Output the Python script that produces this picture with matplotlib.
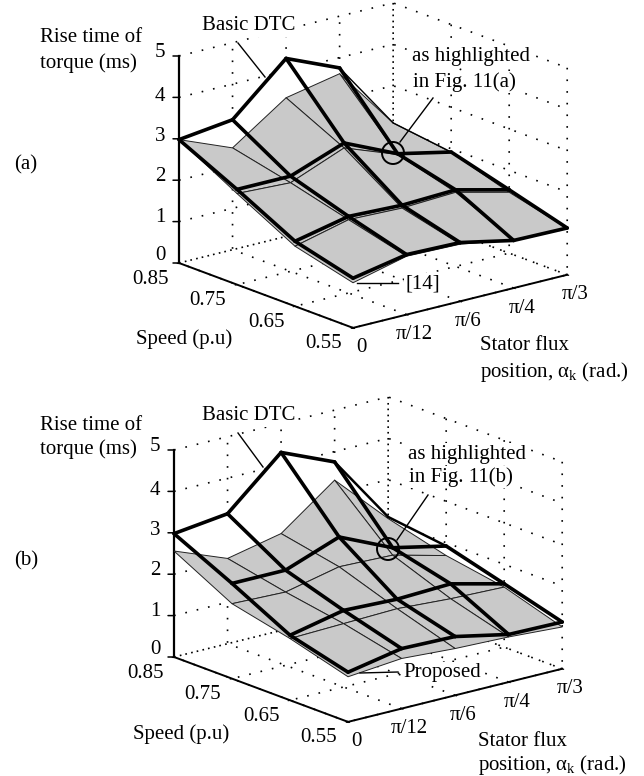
import numpy as np
import matplotlib
matplotlib.use('Agg')
import matplotlib.pyplot as plt
from matplotlib.lines import Line2D
from matplotlib.patches import Circle
from matplotlib.transforms import Affine2D
from mpl_toolkits.mplot3d import proj3d

plt.rcParams['font.family'] = ['Liberation Serif', 'DejaVu Serif']
plt.rcParams['mathtext.fontset'] = 'stix'

W = 644
H = 776
FS = 15

# axes values
speed = [0.85, 0.75, 0.65, 0.55]
flux = [0, np.pi/12, np.pi/6, np.pi/4, np.pi/3]
speed_labels = ['0.85', '0.75', '0.65', '0.55']
flux_labels = ['0', 'π/12', 'π/6', 'π/4', 'π/3']
z_ticks = [0, 1, 2, 3, 4, 5]

# rise time (ms), rows follow speed, columns follow flux
z_basic = [[2.98, 3.14, 4.30, 3.75, 2.10],
           [2.30, 2.30, 2.78, 2.20, 1.92],
           [1.57, 1.85, 1.80, 1.85, 1.53],
           [1.20, 1.45, 1.42, 1.15, 1.13]]
z_ref14 = [[2.98, 2.46, 3.35, 3.61, 2.10],
           [2.20, 2.14, 2.66, 2.18, 1.91],
           [1.45, 1.77, 1.73, 1.79, 1.47],
           [1.09, 1.41, 1.38, 1.16, 1.12]]
z_proposed = [[2.56, 2.06, 2.34, 3.31, 2.06],
              [1.81, 1.77, 2.06, 2.02, 1.69],
              [1.49, 1.53, 1.57, 1.49, 1.45],
              [1.09, 1.21, 1.13, 1.09, 1.01]]

fig = plt.figure(figsize=(W/100, H/100), dpi=100)
px = Affine2D().scale(1, -1).translate(0, H)


def corner_px(ax, y_val, z_val):
    x2, y2, _ = proj3d.proj_transform(0, y_val, z_val, ax.get_proj())
    return ax.transData.transform((x2, y2))


# put the z axis foot at (x0, y0) in image pixels with z span of span px
def place_axes(ax, x0, y0, span):
    size = 500.0
    ax.set_position([0, 0, size/W, size/H])
    p0 = corner_px(ax, 0.85, 0)
    p1 = corner_px(ax, 0.85, 5)
    size = size*span/(p1[1]-p0[1])
    ax.set_position([0, 0, size/W, size/H])
    p0 = corner_px(ax, 0.85, 0)
    ax.set_position([(x0-p0[0])/W, (H-y0-p0[1])/H, size/W, size/H])


# tick text next to a 3d point, offset in pixels
def tick_text(ax, x, y, z, s, dx, dy):
    x2, y2, _ = proj3d.proj_transform(x, y, z, ax.get_proj())
    ax.annotate(s, (x2, y2), xytext=(dx, dy), textcoords='offset pixels', ha='center', va='center',
                fontsize=FS, annotation_clip=False)


def z_tick_mark(ax, z):
    x2, y2, _ = proj3d.proj_transform(0, 0.85, z, ax.get_proj())
    ax.annotate('', (x2, y2), xytext=(-6, 0), textcoords='offset pixels', annotation_clip=False,
                arrowprops=dict(arrowstyle='-', lw=1.1, color='k', shrinkA=0, shrinkB=0))


def draw_panel(low_z, x0, y0, edge_lw):
    ax = fig.add_axes([0, 0, 0.5, 0.5], projection='3d', computed_zorder=False, proj_type='ortho')
    ax.patch.set_alpha(0)
    X, Y = np.meshgrid(flux, speed)
    Z = np.array(z_basic)
    L = np.array(low_z)

    ax.plot_surface(X, Y, Z, color='white', edgecolor='none', shade=False, rstride=1, cstride=1, zorder=1)
    ax.plot_surface(X, Y, L, color='#c9c9c9', edgecolor='#222222', linewidth=0.7, shade=False,
                    rstride=1, cstride=1, zorder=2)

    # thick mesh of basic DTC
    for i in range(4):
        for j in range(4):
            lw = edge_lw if (i == 0 and j == 3) else 2.6
            ax.plot(X[i, j:j+2], Y[i, j:j+2], Z[i, j:j+2], c='k', lw=lw, zorder=3, solid_capstyle='round')
    for j in range(5):
        for i in range(3):
            lw = edge_lw if (i == 0 and j == 4) else 2.6
            ax.plot(X[i:i+2, j], Y[i:i+2, j], Z[i:i+2, j], c='k', lw=lw, zorder=3, solid_capstyle='round')

    ax.set_xlim(0, np.pi/3, view_margin=0)
    ax.set_ylim(0.55, 0.85, view_margin=0)
    ax.set_zlim(0, 5, view_margin=0)
    ax.set_xticks(flux)
    ax.set_xticklabels([])
    ax.set_yticks(speed)
    ax.set_yticklabels([])
    ax.set_zticks(z_ticks)
    ax.set_zticklabels([])
    ax.set_box_aspect((276, 275, 217))
    ax.view_init(elev=17.7, azim=-129.2)

    for axis in [ax.xaxis, ax.yaxis, ax.zaxis]:
        axis.set_pane_color((1, 1, 1, 0))
        axis.pane.set_edgecolor((1, 1, 1, 0))
        axis.line.set_linewidth(1.4)
        axis.line.set_color('k')
        axis._axinfo['grid'].update(color='k', linewidth=1.2, linestyle=(0, (1, 6)))
        axis._axinfo['tick'].update(inward_factor=0.1, outward_factor=0.0)
    ax.zaxis.line.set_linewidth(1.6)
    ax.zaxis._axinfo['tick'].update(inward_factor=0.0, outward_factor=0.0)

    z_up = [7, 4, 4, 2, 1, 4]
    for z, up in zip(z_ticks, z_up):
        tick_text(ax, 0, 0.85, z, str(z), -19, up)
        z_tick_mark(ax, z)
    for v, s in zip(speed, speed_labels):
        tick_text(ax, 0, v, 0, s, -29, -16)
    for v, s in zip(flux, flux_labels):
        tick_text(ax, v, 0.55, 0, s, 8, -20)

    place_axes(ax, x0, y0, 207)
    return ax


def label(x, y, s, boxed=False):
    kw = {}
    if boxed:
        kw['bbox'] = dict(fc='white', ec='none', pad=1)
    fig.text(x/W, 1-(y+2)/H, s, fontsize=FS, va='center', **kw)


def leader(xs, ys, lw=1.0):
    fig.add_artist(Line2D(xs, ys, c='k', lw=lw, transform=px))


draw_panel(z_ref14, 179, 263, 1.0)
draw_panel(z_proposed, 174, 657, 1.8)

# panel (a) notes
label(40, 36, 'Rise time of')
label(40, 61, 'torque (ms)')
label(14, 163, '(a)')
label(202, 24, 'Basic DTC', boxed=True)
label(412, 55, 'as highlighted', boxed=True)
label(413, 80, 'in Fig. 11(a)', boxed=True)
label(136, 337, 'Speed (p.u)')
label(480, 343, 'Stator flux')
label(480, 370, r'position, $\mathregular{\alpha_k}$ (rad.)')
label(405, 282, '[14]', boxed=True)
leader([238, 265], [43, 77])
leader([433, 400], [98, 142])
leader([398, 357], [283, 283])
fig.add_artist(Circle((393, 153), 11, fc='none', ec='k', lw=1.4, transform=px))

# panel (b) notes
label(40, 423, 'Rise time of')
label(40, 447, 'torque (ms)')
label(14, 559, '(b)')
label(202, 414, 'Basic DTC', boxed=True)
label(408, 452, 'as highlighted', boxed=True)
label(409, 475, 'in Fig. 11(b)', boxed=True)
label(133, 732, 'Speed (p.u)')
label(478, 739, 'Stator flux')
label(478, 763, r'position, $\mathregular{\alpha_k}$ (rad.)')
label(403, 671, 'Proposed', boxed=True)
leader([238, 263], [433, 467])
leader([428, 397], [495, 540])
leader([398, 360], [672, 673])
fig.add_artist(Circle((388, 549), 11, fc='none', ec='k', lw=1.4, transform=px))

plt.savefig('out.png', dpi=100)
plt.close()
